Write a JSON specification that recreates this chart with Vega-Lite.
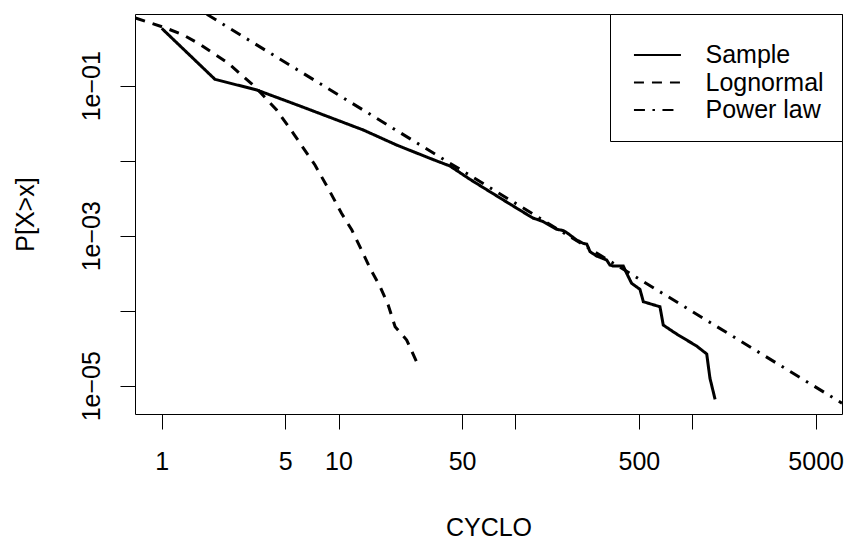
{
  "$schema": "https://vega.github.io/schema/vega-lite/v6.json",
  "width": 707,
  "height": 400,
  "autosize": {"type": "none"},
  "padding": {"left": 135, "top": 14, "right": 6, "bottom": 126},
  "background": "white",
  "data": {
    "values": [
      {"series": "Sample", "x": 1, "p": 0.582},
      {"series": "Sample", "x": 2, "p": 0.1217},
      {"series": "Sample", "x": 3.45, "p": 0.0877},
      {"series": "Sample", "x": 6.06, "p": 0.0536},
      {"series": "Sample", "x": 13.8, "p": 0.0257},
      {"series": "Sample", "x": 21.3, "p": 0.0162},
      {"series": "Sample", "x": 32.9, "p": 0.01076},
      {"series": "Sample", "x": 42.7, "p": 0.0085},
      {"series": "Sample", "x": 55.4, "p": 0.00565},
      {"series": "Sample", "x": 71.9, "p": 0.00386},
      {"series": "Sample", "x": 95.4, "p": 0.00256},
      {"series": "Sample", "x": 126.4, "p": 0.00171},
      {"series": "Sample", "x": 132, "p": 0.00166},
      {"series": "Sample", "x": 143.9, "p": 0.00154},
      {"series": "Sample", "x": 171.4, "p": 0.00122},
      {"series": "Sample", "x": 187, "p": 0.00117},
      {"series": "Sample", "x": 195.4, "p": 0.0011},
      {"series": "Sample", "x": 222.4, "p": 0.000877},
      {"series": "Sample", "x": 242.5, "p": 0.00079},
      {"series": "Sample", "x": 253.5, "p": 0.000775},
      {"series": "Sample", "x": 264.8, "p": 0.000612},
      {"series": "Sample", "x": 288.6, "p": 0.000536},
      {"series": "Sample", "x": 328.7, "p": 0.000474},
      {"series": "Sample", "x": 343, "p": 0.000406},
      {"series": "Sample", "x": 358.3, "p": 0.000394},
      {"series": "Sample", "x": 408.3, "p": 0.000394},
      {"series": "Sample", "x": 426.6, "p": 0.000315},
      {"series": "Sample", "x": 455, "p": 0.000232},
      {"series": "Sample", "x": 507, "p": 0.000193},
      {"series": "Sample", "x": 530, "p": 0.000132},
      {"series": "Sample", "x": 658, "p": 0.000113},
      {"series": "Sample", "x": 687, "p": 0.0000645},
      {"series": "Sample", "x": 718, "p": 0.00006},
      {"series": "Sample", "x": 818, "p": 0.0000489},
      {"series": "Sample", "x": 1062, "p": 0.0000338},
      {"series": "Sample", "x": 1210, "p": 0.0000265},
      {"series": "Sample", "x": 1262, "p": 0.0000126},
      {"series": "Sample", "x": 1349, "p": 0.0000066},
      {"series": "Lognormal", "x": 0.71, "p": 0.8},
      {"series": "Lognormal", "x": 0.878, "p": 0.679},
      {"series": "Lognormal", "x": 1.067, "p": 0.582},
      {"series": "Lognormal", "x": 1.325, "p": 0.474},
      {"series": "Lognormal", "x": 1.61, "p": 0.367},
      {"series": "Lognormal", "x": 1.96, "p": 0.27},
      {"series": "Lognormal", "x": 2.38, "p": 0.199},
      {"series": "Lognormal", "x": 2.83, "p": 0.139},
      {"series": "Lognormal", "x": 3.37, "p": 0.097},
      {"series": "Lognormal", "x": 4.47, "p": 0.0474},
      {"series": "Lognormal", "x": 5.55, "p": 0.0232},
      {"series": "Lognormal", "x": 6.06, "p": 0.0171},
      {"series": "Lognormal", "x": 7.36, "p": 0.00877},
      {"series": "Lognormal", "x": 8.95, "p": 0.00386},
      {"series": "Lognormal", "x": 10.4, "p": 0.00199},
      {"series": "Lognormal", "x": 11.9, "p": 0.00119},
      {"series": "Lognormal", "x": 13.5, "p": 0.000645},
      {"series": "Lognormal", "x": 15.1, "p": 0.000367},
      {"series": "Lognormal", "x": 17.2, "p": 0.000209},
      {"series": "Lognormal", "x": 19.1, "p": 0.000119},
      {"series": "Lognormal", "x": 20.9, "p": 0.0000612},
      {"series": "Lognormal", "x": 24.3, "p": 0.0000407},
      {"series": "Lognormal", "x": 27.9, "p": 0.0000199},
      {"series": "Power law", "x": 1.8, "p": 0.8946},
      {"series": "Power law", "x": 7047, "p": 0.00000585}
    ]
  },
  "mark": {
    "type": "line",
    "color": "black",
    "strokeWidth": 3,
    "strokeCap": "butt",
    "clip": true
  },
  "encoding": {
    "x": {
      "field": "x",
      "type": "quantitative",
      "scale": {"type": "log", "domain": [0.706, 7047], "nice": false},
      "axis": {
        "values": [1, 5, 10, 50, 100, 500, 1000, 5000],
        "format": "d",
        "labelExpr": "datum.value == 100 || datum.value == 1000 ? '' : datum.label",
        "labelBaseline": "alphabetic",
        "labelPadding": 40,
        "title": "CYCLO",
        "titleBaseline": "alphabetic",
        "titleY": 121
      }
    },
    "y": {
      "field": "p",
      "type": "quantitative",
      "scale": {"type": "log", "domain": [0.0000042, 0.904], "nice": false},
      "axis": {
        "values": [0.1, 0.01, 0.001, 0.0001, 0.00001],
        "labelExpr": "(abs(round(log(datum.value) / LN10)) % 2 == 1) ? '1e−0' + abs(round(log(datum.value) / LN10)) : ''",
        "labelAngle": -90,
        "labelAlign": "center",
        "labelBaseline": "alphabetic",
        "labelPadding": 21,
        "title": "P[X>x]",
        "titleAngle": -90,
        "titleBaseline": "alphabetic",
        "titleX": -102
      }
    },
    "strokeDash": {
      "field": "series",
      "type": "nominal",
      "scale": {
        "domain": ["Sample", "Lognormal", "Power law"],
        "range": [[1, 0], [10, 8], [11, 7.5, 2.5, 7.5]]
      },
      "legend": {
        "title": " ",
        "titleFontSize": 10,
        "titlePadding": 0,
        "orient": "top-right",
        "offset": 0,
        "padding": 18,
        "strokeColor": "black",
        "fillColor": "white",
        "cornerRadius": 0,
        "labelFont": "Liberation Sans",
        "labelFontSize": 25,
        "labelColor": "black",
        "labelOffset": 51.5,
        "labelLimit": 300,
        "symbolType": "M-0.6,0H3.4",
        "symbolSize": 552,
        "symbolStrokeWidth": 2,
        "symbolStrokeColor": "black",
        "symbolFillColor": "transparent",
        "rowPadding": 1.5
      }
    }
  },
  "config": {
    "view": {"stroke": "black", "strokeWidth": 1},
    "axis": {
      "grid": false,
      "domain": false,
      "ticks": true,
      "tickColor": "black",
      "tickSize": 15,
      "tickWidth": 1,
      "labelFont": "Liberation Sans",
      "labelFontSize": 25,
      "labelColor": "black",
      "labelFlush": false,
      "labelOverlap": false,
      "labelBound": false,
      "titleFont": "Liberation Sans",
      "titleFontSize": 25,
      "titleFontWeight": "normal",
      "titleColor": "black"
    }
  }
}
